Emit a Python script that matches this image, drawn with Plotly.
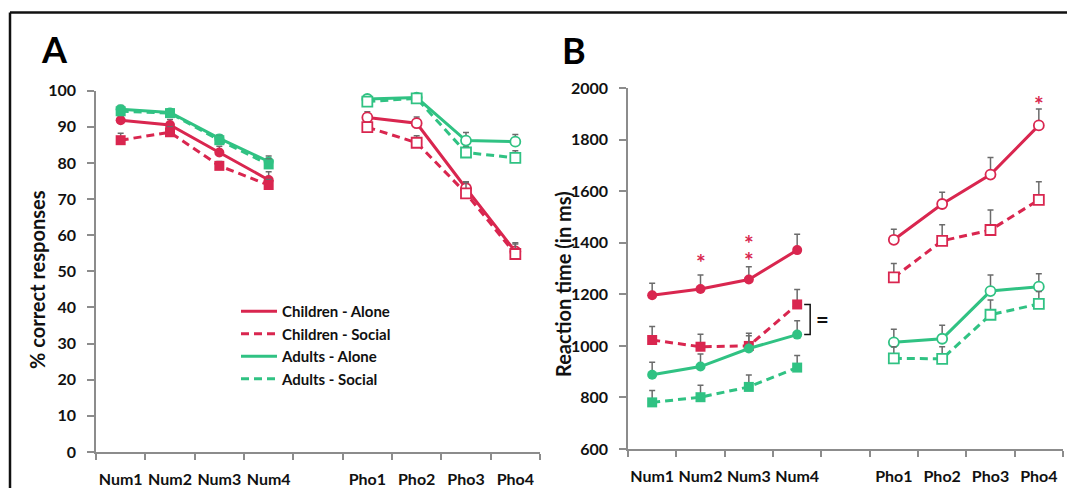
import plotly.graph_objects as go

W, H = 1067, 488

categories = ["Num1", "Num2", "Num3", "Num4", " ", "Pho1", "Pho2", "Pho3", "Pho4"]
num_cats = categories[:4]
pho_cats = categories[5:]

series_names = ["Children - Alone", "Children - Social", "Adults - Alone", "Adults - Social"]

# Panel A: % correct responses
acc_ch_alone_num = [91.8, 90.5, 82.9, 75.3]
acc_ch_alone_pho = [92.6, 91.0, 73.0, 55.5]
acc_ch_social_num = [86.3, 88.5, 79.2, 73.9]
acc_ch_social_pho = [89.9, 85.6, 71.6, 54.8]
acc_ad_alone_num = [94.9, 94.0, 86.8, 80.4]
acc_ad_alone_pho = [97.7, 98.1, 86.2, 85.9]
acc_ad_social_num = [94.3, 93.8, 86.3, 79.6]
acc_ad_social_pho = [97.0, 97.9, 82.9, 81.4]

acc_err_ch_alone_num = [1.0, 1.5, 1.7, 2.3]
acc_err_ch_alone_pho = [1.6, 1.7, 1.8, 2.4]
acc_err_ch_social_num = [1.9, 1.5, 1.2, 1.5]
acc_err_ch_social_pho = [1.3, 1.9, 3.0, 2.8]
acc_err_ad_alone_num = [1.0, 1.0, 1.0, 1.5]
acc_err_ad_alone_pho = [0.8, 0.7, 2.2, 2.0]
acc_err_ad_social_num = [1.0, 1.0, 1.2, 1.5]
acc_err_ad_social_pho = [0.8, 0.6, 1.6, 2.0]

# Panel B: reaction time (ms)
rt_ch_alone_num = [1197, 1221, 1258, 1372]
rt_ch_alone_pho = [1412, 1551, 1665, 1856]
rt_ch_social_num = [1023, 997, 1000, 1161]
rt_ch_social_pho = [1266, 1408, 1450, 1567]
rt_ad_alone_num = [888, 920, 990, 1044]
rt_ad_alone_pho = [1014, 1028, 1213, 1230]
rt_ad_social_num = [781, 801, 841, 916]
rt_ad_social_pho = [952, 950, 1121, 1163]

rt_err_ch_alone_num = [46, 54, 49, 62]
rt_err_ch_alone_pho = [41, 46, 66, 64]
rt_err_ch_social_num = [52, 48, 49, 58]
rt_err_ch_social_pho = [54, 62, 78, 70]
rt_err_ad_alone_num = [49, 49, 50, 54]
rt_err_ad_alone_pho = [51, 52, 62, 50]
rt_err_ad_social_num = [46, 46, 46, 47]
rt_err_ad_social_pho = [45, 47, 57, 48]

a_ticks = list(range(0, 101, 10))
b_ticks = list(range(600, 2001, 200))

# significance stars (panel B, children alone), pixel offset above error bar
star_cats = ["Num2", "Num3", "Num3", "Pho4"]
star_shift = [13, 7, 24, 5]

RED = "#D9264F"
GREEN = "#30C283"
ERR = "#6b6b6b"
AXC = "#8c8c8c"
FONT = "Lato"

fig = go.Figure()


def add_series(xa, ya, cats, vals, errs, color, dash, symbol, filled):
    fig.add_trace(go.Scatter(
        x=cats, y=vals, xaxis=xa, yaxis=ya, mode="lines+markers",
        line=dict(color=color, width=3, dash=dash),
        marker=dict(symbol=symbol, size=10,
                    color=color if filled else "white",
                    line=dict(color=color, width=0 if filled else 1.8)),
        error_y=dict(type="data", symmetric=False, array=errs,
                     arrayminus=[0] * len(errs), color=ERR,
                     thickness=1.5, width=3),
        showlegend=False, cliponaxis=False, hoverinfo="skip"))


DASH = "8px,5px"
panelA = [
    (acc_ch_alone_num, acc_err_ch_alone_num, acc_ch_alone_pho, acc_err_ch_alone_pho, RED, "solid", "circle"),
    (acc_ch_social_num, acc_err_ch_social_num, acc_ch_social_pho, acc_err_ch_social_pho, RED, DASH, "square"),
    (acc_ad_alone_num, acc_err_ad_alone_num, acc_ad_alone_pho, acc_err_ad_alone_pho, GREEN, "solid", "circle"),
    (acc_ad_social_num, acc_err_ad_social_num, acc_ad_social_pho, acc_err_ad_social_pho, GREEN, DASH, "square"),
]
panelB = [
    (rt_ch_alone_num, rt_err_ch_alone_num, rt_ch_alone_pho, rt_err_ch_alone_pho, RED, "solid", "circle"),
    (rt_ch_social_num, rt_err_ch_social_num, rt_ch_social_pho, rt_err_ch_social_pho, RED, DASH, "square"),
    (rt_ad_alone_num, rt_err_ad_alone_num, rt_ad_alone_pho, rt_err_ad_alone_pho, GREEN, "solid", "circle"),
    (rt_ad_social_num, rt_err_ad_social_num, rt_ad_social_pho, rt_err_ad_social_pho, GREEN, DASH, "square"),
]

for (xa, ya, panel) in [("x", "y", panelA), ("x2", "y2", panelB)]:
    for nv, ne, pv, pe, c, d, s in panel:
        add_series(xa, ya, num_cats, nv, ne, c, d, s, True)
        add_series(xa, ya, pho_cats, pv, pe, c, d, s, False)

# legend-only line samples
for name, (_, _, _, _, c, d, _) in zip(series_names, panelA):
    fig.add_trace(go.Scatter(x=[None], y=[None], xaxis="x", yaxis="y", mode="lines",
                             line=dict(color=c, width=3, dash=d), name=name,
                             showlegend=True, hoverinfo="skip"))

tickfont = dict(family=FONT, size=16, color="#111", weight="bold")


def xaxis_cfg(x0, x1):
    return dict(domain=[x0 / W, x1 / W], type="category", categoryorder="array",
                categoryarray=categories, range=[-0.5, len(categories) - 0.5],
                tickson="boundaries", ticks="outside", ticklen=6, tickwidth=1.5,
                tickcolor=AXC, showline=True, linecolor=AXC, linewidth=1.5,
                showgrid=False, zeroline=False, tickfont=tickfont, tickangle=0,
                ticklabelstandoff=12, fixedrange=True, automargin=False)


def yaxis_cfg(ytop, ybot, rng, tv):
    return dict(domain=[(H - ybot) / H, (H - ytop) / H], range=rng, tickvals=tv,
                ticks="outside", ticklen=7, tickwidth=1.5, tickcolor=AXC,
                showline=True, linecolor=AXC, linewidth=1.5, showgrid=False,
                zeroline=False, tickfont=tickfont, ticklabelstandoff=8,
                fixedrange=True, automargin=False)


xa_cfg = xaxis_cfg(96, 540)
xa_cfg["anchor"] = "y"
xb_cfg = xaxis_cfg(628, 1063)
xb_cfg["anchor"] = "y2"
ya_cfg = yaxis_cfg(90.7, 452, [a_ticks[0], a_ticks[-1]], a_ticks)
ya_cfg["anchor"] = "x"
yb_cfg = yaxis_cfg(88.3, 449, [b_ticks[0], b_ticks[-1]], b_ticks)
yb_cfg["anchor"] = "x2"


def paper_text(text, px, py, size, angle=0, color="#111"):
    return dict(text=text, x=px / W, y=(H - py) / H, xref="paper", yref="paper",
                xanchor="center", yanchor="middle", textangle=angle, showarrow=False,
                font=dict(family=FONT, size=size, color=color, weight="bold"))


annotations = [
    paper_text("A", 54, 49, 36, color="#000"),
    paper_text("B", 574, 50, 36, color="#000"),
    paper_text("% correct responses", 37, 280, 20, angle=-90),
    paper_text("Reaction time (in ms)", 563, 284, 20, angle=-90),
]

ch_alone_top = {c: v + e for c, v, e in zip(num_cats + pho_cats,
                                             rt_ch_alone_num + rt_ch_alone_pho,
                                             rt_err_ch_alone_num + rt_err_ch_alone_pho)}
for c, sh in zip(star_cats, star_shift):
    annotations.append(dict(text="*", x=c, y=ch_alone_top[c], xref="x2", yref="y2",
                            yshift=sh, showarrow=False,
                            font=dict(family=FONT, size=23, color=RED, weight="bold")))

# bracket between Children-Social and Adults-Alone at Num4
i4 = num_cats.index("Num4")
b_top = rt_ch_social_num[i4]
b_bot = rt_ad_alone_num[i4]
annotations.append(dict(text="=", x=categories.index("Num4"), y=(b_top + b_bot) / 2,
                        xref="x2", yref="y2", xshift=25, showarrow=False,
                        font=dict(family=FONT, size=22, color="#111", weight="bold")))

shapes = [
    dict(type="path", xref="x2", yref="y2", xsizemode="pixel",
         xanchor=categories.index("Num4"),
         path=f"M7,{b_top} H13 V{b_bot} H7", line=dict(color="#111", width=1.5)),
    dict(type="line", xref="paper", yref="paper", x0=10 / W, x1=1, y0=(H - 12.5) / H,
         y1=(H - 12.5) / H, line=dict(color="#111", width=2.5)),
    dict(type="line", xref="paper", yref="paper", x0=10 / W, x1=10 / W, y0=0,
         y1=(H - 12.5) / H, line=dict(color="#111", width=2.5)),
]

fig.update_layout(
    width=W, height=H, margin=dict(l=0, r=0, t=0, b=0, autoexpand=False),
    paper_bgcolor="white", plot_bgcolor="white",
    xaxis=xa_cfg, yaxis=ya_cfg, xaxis2=xb_cfg, yaxis2=yb_cfg,
    annotations=annotations, shapes=shapes,
    legend=dict(x=236 / W, y=(H - 295) / H, xanchor="left", yanchor="top",
                bgcolor="rgba(0,0,0,0)", itemwidth=36,
                font=dict(family=FONT, size=15, color="#111", weight="bold"),
                tracegroupgap=0),
    showlegend=True,
)

fig.write_html("out.html", config={"displayModeBar": False},
               post_script="document.body.style.margin='0';document.body.style.overflow='hidden';")
